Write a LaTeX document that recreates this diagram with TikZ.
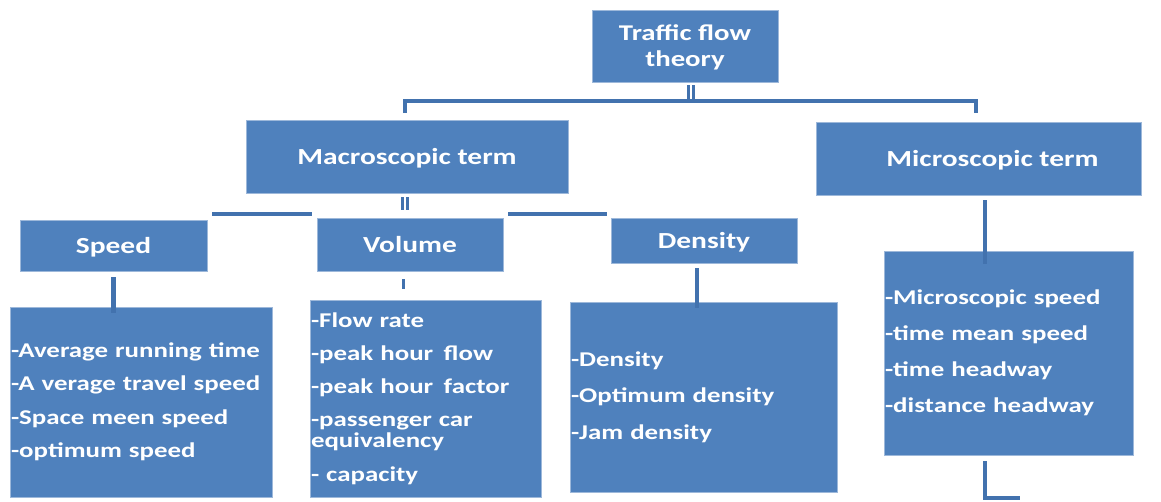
\documentclass[tikz,border=0pt]{standalone}
\usepackage{fontspec}
\setmainfont{Carlito}[FakeStretch=1.28]
\definecolor{boxblue}{HTML}{4F81BD}
\definecolor{lineblue}{HTML}{4272AE}
\definecolor{edgeblue}{HTML}{9DB8DA}
\tikzset{
  box/.style={rectangle, fill=boxblue, draw=edgeblue, line width=0.7pt, text=white, font=\bfseries, inner sep=0pt, align=center},
  head/.style={box, text depth=0pt, font=\fontsize{23}{26}\selectfont\bfseries},
  listbox/.style={box, align=left, inner xsep=1pt, inner ysep=0pt},
  conn/.style={draw=lineblue, line width=4pt},
  dbl/.style={draw=lineblue, line width=3pt, double=white, double distance=2.5pt},
}
\begin{document}
\begin{tikzpicture}[x=1pt,y=-1pt]
\useasboundingbox (0,0) rectangle (1161,501);
% header boxes
\node[head, minimum width=186pt, minimum height=72pt, font=\fontsize{22.5}{26}\selectfont\bfseries] (top) at (685,46) {Traffic flow\\theory};
\node[head, minimum width=322pt, minimum height=73pt] (macro) at (407,156.5) {Macroscopic term};
\node[head, minimum width=325pt, minimum height=73pt] (micro) at (978.5,158.5) {\hspace*{28pt}Microscopic term};
\node[head, minimum width=187pt, minimum height=51pt] (speed) at (113.5,245.5) {Speed};
\node[head, minimum width=186pt, minimum height=53pt] (volume) at (410,244.5) {Volume};
\node[head, minimum width=186pt, minimum height=45pt] (density) at (704,240.5) {Density};
% list boxes
\node[listbox, text width=260pt, minimum height=190pt, font=\fontsize{21}{33.5}\selectfont\bfseries] (speedlist) at (141,402)
 {-Average running time\\-A verage travel speed\\-Space meen speed\\-optimum speed};
\node[listbox, text width=229pt, minimum height=197pt, font=\fontsize{21}{33}\selectfont\bfseries] (volumelist) at (425.5,398.5)
 {-Flow rate\\-peak hour\, flow\\-peak hour\, factor\\-passenger car\\[-12pt]equivalency\\[1pt]- capacity};
\node[listbox, text width=265pt, minimum height=190pt, font=\fontsize{21}{36.5}\selectfont\bfseries] (densitylist) at (703.5,397)
 {-Density\\-Optimum density\\-Jam density};
\node[listbox, text width=247pt, minimum height=204pt, font=\fontsize{21}{36}\selectfont\bfseries] (microlist) at (1008.5,353)
 {-Microscopic speed\\-time mean speed\\-time headway\\-distance headway};
% connectors from the top box
\coordinate (tj) at (691,101);
\coordinate (busL) at (405,113);
\coordinate (busR) at (976,113);
\draw[dbl] (top.south -| tj) ++(0,3) -- (tj);
\draw[conn, line cap=butt] (busL) |- (tj) -| (busR);
% connectors below macroscopic
\coordinate (mj) at (405,210);
\draw[dbl] (macro.south -| mj) ++(0,4) -- (mj);
\coordinate (hl1) at (212,214);
\coordinate (hl2) at (312,214);
\coordinate (hr1) at (508,214);
\coordinate (hr2) at (607,214);
\draw[conn] (hl1) -- (hl2);
\draw[conn] (hr1) -- (hr2);
% down to list boxes
\draw[conn, line width=5pt] (speed.south) ++(0,6) -- ([yshift=-6pt]speedlist.north -| speed.south);
\coordinate (vl) at (403,279);
\draw[conn, line width=3pt] (vl) -- ++(0,10);
\draw[conn] (density.south -| 697,0) ++(0,5) -- ([yshift=-6pt]densitylist.north -| 697,0);
\coordinate (mcx) at (985,0);
\draw[conn] (micro.south -| mcx) ++(0,5) -- ([yshift=-13pt]microlist.north -| mcx);
% L below microscopic list
\coordinate (lend) at (1020,498);
\draw[conn, line width=3.5pt] (microlist.south -| mcx) ++(0,6) |- (lend);
\end{tikzpicture}
\end{document}
